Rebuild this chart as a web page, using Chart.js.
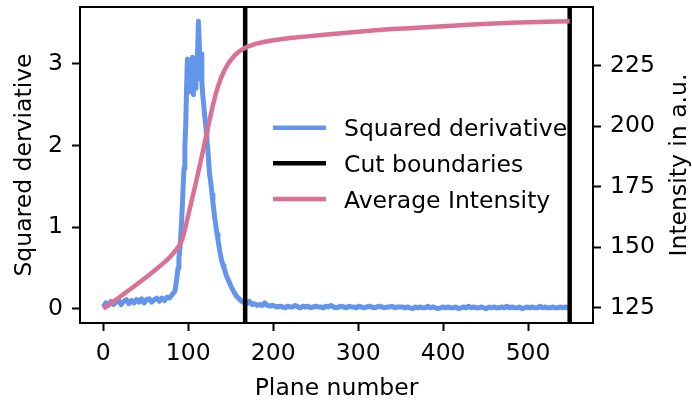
<!DOCTYPE html>
<html>
<head>
<meta charset="utf-8">
<script src="https://cdn.jsdelivr.net/npm/chart.js@4.4.1/dist/chart.umd.min.js"></script>
<style>
  html, body { margin: 0; padding: 0; background: #fff; }
  canvas { display: block; }
</style>
</head>
<body>
<canvas id="chart" width="692" height="401"></canvas>
<script>
// Squared derivative of the plane intensity, sampled densely around the peak
const derivPlanes = [
  0,3,6,9,12,15,18,21,24,27,30,33,36,39,42,45,48,51,54,57,60,63,66,69,72,75,78,81,84,
  85,86,87,88,89,90,91,92,93,94,95,96,97,98,99,100,101,102,103,104,105,106,107,108,109,110,
  111,112,113,114,115,116,117,118,119,120,121,122,123,124,125,126,127,128,129,130,131,132,
  133,134,135,136,137,138,139,140,141,
  142,145,148,151,154,157,160,163,166,169,172,175,178,181,184,187,190,193,196,199,202,205,
  208,211,214,217,220,223,226,229,232,235,238,241,244,247,250,253,256,259,262,265,268,271,
  274,277,280,283,286,289,292,295,298,301,304,307,310,313,316,319,322,325,328,331,334,337,
  340,343,346,349,352,355,358,361,364,367,370,373,376,379,382,385,388,391,394,397,400,403,
  406,409,412,415,418,421,424,427,430,433,436,439,442,445,448,451,454,457,460,463,466,469,
  472,475,478,481,484,487,490,493,496,499,502,505,508,511,514,517,520,523,526,529,532,535,
  538,541,544,547,549
];
const derivValues = [
  0.02,0.07,0.04,0.09,0.05,0.08,0.10,0.05,0.09,0.11,0.06,0.10,0.07,0.11,0.08,0.12,0.07,0.11,
  0.12,0.08,0.11,0.13,0.09,0.13,0.10,0.14,0.13,0.17,0.21,
  0.26,0.33,0.42,0.50,0.62,0.72,0.86,1.05,1.25,1.50,1.72,1.98,2.25,2.70,3.06,2.80,3.04,2.66,
  3.00,2.75,3.08,2.62,2.98,2.70,3.05,2.80,3.15,3.52,3.25,2.90,3.12,2.78,2.62,2.52,2.40,2.30,
  2.20,2.06,1.95,1.80,1.66,1.58,1.50,1.40,1.30,1.22,1.12,1.06,0.97,0.91,0.84,0.78,0.71,0.66,
  0.60,0.56,0.53,
  0.50,0.40,0.33,0.26,0.20,0.15,0.12,0.09,0.07,0.06,0.09,0.05,0.06,0.04,0.05,0.04,0.07,0.04,
  0.03,0.04,0.03,0.02,
  0.03,0.02,0.01,0.03,0.02,0.02,0.04,0.02,0.01,0.03,
  0.02,0.03,0.01,0.02,0.03,0.02,0.02,0.01,0.03,0.02,
  0.04,0.02,0.01,0.02,0.03,0.02,0.01,0.03,0.02,0.02,
  0.01,0.03,0.02,0.01,0.02,0.03,0.02,0.01,0.02,0.03,
  0.02,0.01,0.02,0.02,0.03,0.01,0.02,0.02,
  0.02,0.01,0.02,0.01,0.00,0.02,0.01,0.02,0.01,0.01,
  0.03,0.01,0.02,0.01,0.00,0.01,0.02,0.01,0.02,0.01,
  0.01,0.02,0.00,0.01,0.02,0.01,0.03,0.01,0.02,0.01,
  0.01,0.02,0.01,0.00,0.02,0.01,0.02,0.01,0.01,0.02,
  0.01,0.03,0.01,0.02,0.01,0.01,0.02,0.00,0.01,0.02,
  0.01,0.02,0.01,0.01,0.03,0.01,0.02,0.01,0.01,0.02,
  0.01,0.01,0.02,0.01,0.02,0.01,
  0.01
];

// Average intensity per plane (a.u.)
const intensityPlanes = [
  0,10,20,30,40,50,60,70,75,80,85,90,93,96,99,102,105,108,111,114,117,120,123,126,129,132,
  135,138,141,144,147,150,155,160,165,170,180,190,200,220,240,260,280,300,320,340,360,380,
  400,420,440,460,480,500,520,549
];
const intensityValues = [
  124.6,127.0,129.6,132.2,134.8,137.5,140.3,143.2,144.7,146.5,148.6,151.0,153.3,157.2,161.7,
  166.2,170.7,175.2,179.8,184.5,189.3,194.2,199.2,204.0,208.6,212.8,216.4,219.4,221.9,224.0,
  225.8,227.3,229.4,230.9,232.0,232.9,234.1,234.9,235.5,236.4,237.1,237.8,238.4,239.0,239.6,
  240.1,240.5,240.9,241.3,241.7,242.1,242.4,242.7,242.9,243.1,243.3
];

// Planes where the stack is cut
const cutPlanes = [167, 549];

const xTicks = [0, 100, 200, 300, 400, 500];
const derivTicks = [0, 1, 2, 3];
const intensityTicks = [125, 150, 175, 200, 225];

const FAMILY = "'DejaVu Sans', sans-serif";
const FONT = { family: FAMILY, size: 23.5 };
Chart.defaults.font.family = FAMILY;
Chart.defaults.font.size = 23.5;
Chart.defaults.color = '#000';

// 5 % autoscale margin on each side of the data range
function padded(vals) {
  const lo = Math.min(...vals), hi = Math.max(...vals), m = (hi - lo) * 0.05;
  return [lo - m, hi + m];
}
const [xMin, xMax] = padded(derivPlanes.concat(intensityPlanes));
const [dMin, dMax] = padded(derivValues);
const [iMin, iMax] = padded(intensityValues);

const fixedTicks = list => scale => { scale.ticks = list.map(v => ({ value: v })); };

// fixed axis box sizes, no extra room for overhanging tick labels
const fitVertical = w => s => { s.width = w; s.paddingTop = 0; s.paddingBottom = 0; };
const fitHorizontal = h => s => { s.height = h; s.paddingLeft = 0; s.paddingRight = 0; };

const tickGrid = { drawOnChartArea: false, drawTicks: true, tickLength: 8, tickWidth: 2, tickColor: '#000' };
const spine = { display: true, color: '#000', width: 2 };

const derivData = derivPlanes.map((p, i) => ({ x: p, y: derivValues[i] }));
const intensityData = intensityPlanes.map((p, i) => ({ x: p, y: intensityValues[i] }));
const cutData = cutPlanes.flatMap(p => [{ x: p, y: dMin }, { x: p, y: dMax }, { x: p, y: null }]);

const COLORS = { deriv: '#6495ED', cut: '#000000', intensity: '#DB7093' };

const overlay = {
  id: 'overlay',
  afterDraw(chart) {
    const { ctx, chartArea: a } = chart;
    ctx.save();
    // top spine
    ctx.strokeStyle = '#000';
    ctx.lineWidth = 2;
    ctx.beginPath();
    ctx.moveTo(a.left - 1, a.top);
    ctx.lineTo(a.right + 1, a.top);
    ctx.stroke();

    // legend inside the plot
    const rows = [127.7, 163.3, 199];
    ctx.font = `23.5px ${FAMILY}`;
    ctx.textAlign = 'left';
    ctx.textBaseline = 'alphabetic';
    chart.data.datasets.forEach((ds, i) => {
      const y = rows[i];
      ctx.strokeStyle = ds.borderColor;
      ctx.lineWidth = 4.5;
      ctx.lineCap = 'butt';
      ctx.beginPath();
      ctx.moveTo(273, y);
      ctx.lineTo(326, y);
      ctx.stroke();
      ctx.fillStyle = '#000';
      ctx.fillText(ds.label, 344, y + 8.6);
    });

    // right axis title, reading bottom to top
    ctx.translate(686, (a.top + a.bottom) / 2);
    ctx.rotate(-Math.PI / 2);
    ctx.textAlign = 'center';
    ctx.fillText('Intensity in a.u.', 0, 0);
    ctx.restore();
  }
};

new Chart(document.getElementById('chart'), {
  type: 'line',
  data: {
    datasets: [
      {
        label: 'Squared derivative',
        data: derivData,
        yAxisID: 'y',
        borderColor: COLORS.deriv,
        borderWidth: 5,
        borderJoinStyle: 'round',
        pointRadius: 0,
        order: 3
      },
      {
        label: 'Cut boundaries',
        data: cutData,
        yAxisID: 'y',
        borderColor: COLORS.cut,
        borderWidth: 4.5,
        pointRadius: 0,
        spanGaps: false,
        order: 2
      },
      {
        label: 'Average Intensity',
        data: intensityData,
        yAxisID: 'y2',
        borderColor: COLORS.intensity,
        borderWidth: 4.5,
        borderJoinStyle: 'round',
        pointRadius: 0,
        order: 1
      }
    ]
  },
  options: {
    responsive: false,
    animation: false,
    devicePixelRatio: 1,
    layout: { padding: { top: 7, left: 0, right: 0, bottom: 0 } },
    plugins: { legend: { display: false }, tooltip: { enabled: false } },
    scales: {
      x: {
        type: 'linear',
        position: 'bottom',
        min: xMin,
        max: xMax,
        afterBuildTicks: fixedTicks(xTicks),
        afterFit: fitHorizontal(78),
        ticks: { font: FONT, color: '#000', padding: 9, maxRotation: 0, autoSkip: false, callback: v => String(v) },
        grid: tickGrid,
        border: spine,
        title: { display: true, text: 'Plane number', font: { family: FAMILY, size: 23.5, lineHeight: 1.05 }, color: '#000', padding: { top: 0, bottom: 0 } }
      },
      y: {
        type: 'linear',
        position: 'left',
        min: dMin,
        max: dMax,
        afterBuildTicks: fixedTicks(derivTicks),
        afterFit: fitVertical(80),
        ticks: { font: FONT, color: '#000', padding: 9, callback: v => String(v) },
        grid: tickGrid,
        border: spine,
        title: { display: true, text: 'Squared derviative', font: FONT, color: '#000', padding: { top: 11, bottom: 0 } }
      },
      y2: {
        type: 'linear',
        position: 'right',
        min: iMin,
        max: iMax,
        afterBuildTicks: fixedTicks(intensityTicks),
        afterFit: fitVertical(99),
        ticks: { font: FONT, color: '#000', padding: 9, callback: v => String(v) },
        grid: tickGrid,
        border: spine
      }
    }
  },
  plugins: [overlay]
});
</script>
</body>
</html>
